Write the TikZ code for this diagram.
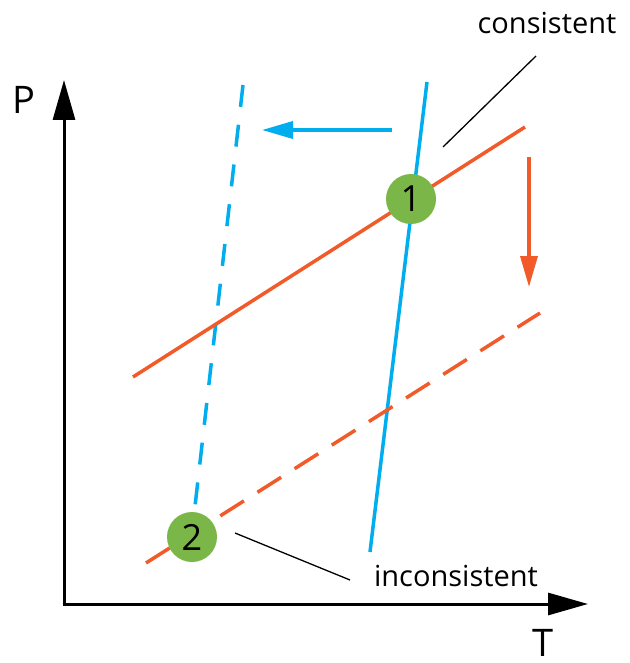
\documentclass[tikz,border=0pt]{standalone}
\usepackage{fontspec}
\setmainfont{Open Sans}
\usetikzlibrary{arrows.meta}
\definecolor{cblue}{HTML}{00AEEF}
\definecolor{cred}{HTML}{F15A29}
\definecolor{cgreen}{HTML}{7AB648}
\tikzset{
  axis/.style={line width=3pt, -{Triangle[length=40pt,width=22pt]}},
  bline/.style={cblue, line width=3.5pt},
  rline/.style={cred, line width=3.5pt},
  bdash/.style={bline, dash pattern=on 22pt off 18pt},
  rdash/.style={rline, dash pattern=on 28pt off 16pt},
  statept/.style={circle, fill=cgreen, minimum size=50pt, inner sep=0pt, font=\fontsize{36}{38}\selectfont},
  lbl/.style={font=\fontsize{29}{32}\selectfont, inner sep=0pt},
  axlbl/.style={font=\fontsize{38}{40}\selectfont, inner sep=0pt},
  leader/.style={line width=1.3pt},
}
\begin{document}
\begin{tikzpicture}[x=1pt,y=-1pt]
\useasboundingbox (0,0) rectangle (629,663);
% axes
\coordinate (O) at (64,604);
\coordinate (Ptop) at (64,80);
\coordinate (Tend) at (588,604);
\draw[axis] (64,605.5) -- (Ptop);
\draw[axis] (62.5,604) -- (Tend);
\node[axlbl] (P) at (24,100) {P};
\node[axlbl] (T) at (543,643) {T};
% blue lines
\coordinate (b1a) at (427,82);
\coordinate (b1b) at (370,552);
\draw[bline] (b1a) -- (b1b);
\coordinate (b2a) at (243,85);
\coordinate (b2b) at (194,515);
\draw[bdash] (b2a) -- (b2b);
\coordinate (ba1) at (392,130);
\coordinate (ba2) at (262,130);
\draw[bline, -{Triangle[length=31pt,width=17pt]}] (ba1) -- (ba2);
% red lines
\coordinate (r1a) at (133,377);
\coordinate (r1b) at (525,127);
\draw[rline] (r1a) -- (r1b);
\coordinate (r2a) at (146,563);
\coordinate (r2b) at (540,313);
\draw[rdash] (r2a) -- (r2b);
\coordinate (ra1) at (529,157);
\coordinate (ra2) at (529,287);
\draw[rline, -{Triangle[length=31pt,width=17pt]}] (ra1) -- (ra2);
% state points
\node[statept] (s1) at (411,199) {1};
\node[statept] (s2) at (192,537) {2};
% labels
\node[lbl] (cons) at (547,23) {consistent};
\node[lbl] (incons) at (456,576) {inconsistent};
\coordinate (c1) at (536,56);
\coordinate (c2) at (443,147);
\draw[leader] (c1) -- (c2);
\coordinate (i1) at (235,533);
\coordinate (i2) at (350,580);
\draw[leader] (i1) -- (i2);
\end{tikzpicture}
\end{document}
